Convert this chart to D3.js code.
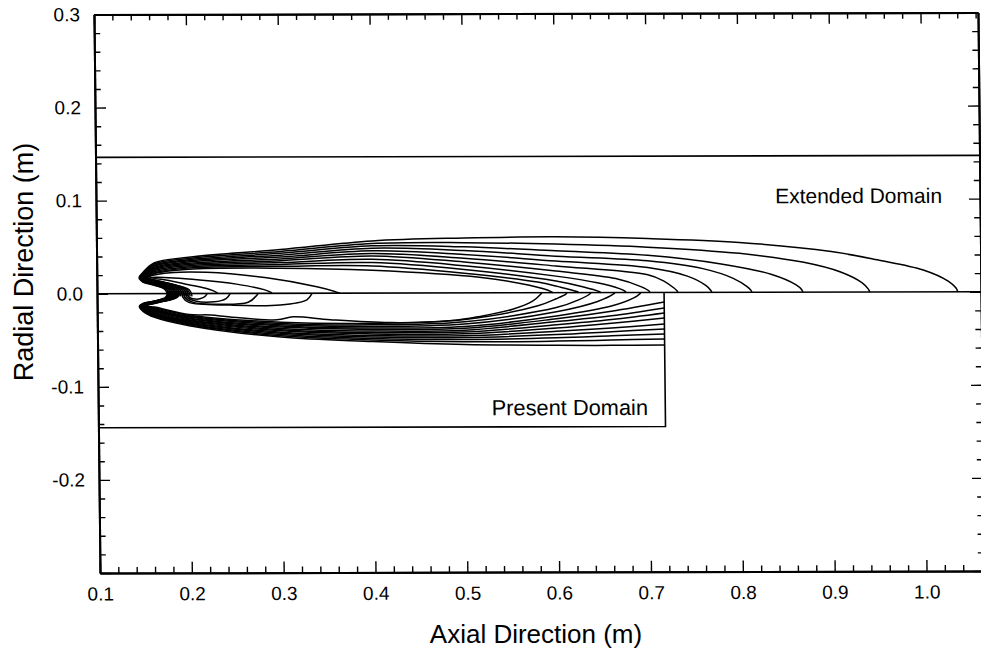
<!DOCTYPE html>
<html>
<head>
<meta charset="utf-8">
<script src="https://cdn.jsdelivr.net/npm/d3@7"></script>
<style>
  body { margin: 0; background: #fff; }
  svg { display: block; }
  text { font-family: "Liberation Sans", Arial, Helvetica, sans-serif; fill: #000; }
</style>
</head>
<body>
<svg id="chart" width="981" height="650"></svg>
<script>
// ---- axes ----
const xDomain = [0.1, 1.0626];
const yDomain = [-0.3, 0.3];
const xMajorTicks = [0.1, 0.2, 0.3, 0.4, 0.5, 0.6, 0.7, 0.8, 0.9, 1.0];
const xMinorTicks = [0.12, 0.14, 0.16, 0.18, 0.22, 0.24, 0.26, 0.28, 0.32, 0.34, 0.36, 0.38,
  0.42, 0.44, 0.46, 0.48, 0.52, 0.54, 0.56, 0.58, 0.62, 0.64, 0.66, 0.68, 0.72, 0.74, 0.76, 0.78,
  0.82, 0.84, 0.86, 0.88, 0.92, 0.94, 0.96, 0.98, 1.02, 1.04, 1.06];
const yMajorTicks = [-0.3, -0.2, -0.1, 0.0, 0.1, 0.2, 0.3];
const yLabelTicks = [0.3, 0.2, 0.1, 0.0, -0.1, -0.2];
const yMinorTicks = [-0.28, -0.26, -0.24, -0.22, -0.18, -0.16, -0.14, -0.12, -0.08, -0.06, -0.04, -0.02,
  0.02, 0.04, 0.06, 0.08, 0.12, 0.14, 0.16, 0.18, 0.22, 0.24, 0.26, 0.28];

// ---- domain boundaries ----
const extendedBoundaryR = 0.1465;
const presentBoundaryR = -0.144;
const presentBoundaryX = 0.7175;

// ---- isotherm contours, [axial x (m), radial r (m)] ----
// upper half (extended domain): outer band, outermost first
const upperBand = [
  [[0.1775,-0.003],[0.1745,0.004],[0.1625,0.0090],[0.150,0.0125],[0.1460,0.0170],[0.150,0.0225],[0.1625,0.0330],[0.200,0.0390],[0.300,0.0470],[0.400,0.0561],[0.500,0.0590],[0.600,0.0600],[0.700,0.0580],[0.800,0.0535],[0.900,0.0435],[0.950,0.0345],[1.000,0.0235],[1.027,0.0115],[1.0355,0.0040],[1.0373,0]],
  [[0.1795,-0.003],[0.1765,0.004],[0.1635,0.0093],[0.1507,0.0128],[0.1467,0.0170],[0.1507,0.0220],[0.1625,0.0318],[0.200,0.0377],[0.300,0.0450],[0.400,0.0532],[0.500,0.0540],[0.600,0.0522],[0.700,0.0487],[0.800,0.0418],[0.870,0.0320],[0.910,0.0215],[0.933,0.0100],[0.940,0.0030],[0.9415,0]],
  [[0.1815,-0.003],[0.1785,0.004],[0.1645,0.0096],[0.1514,0.0131],[0.1474,0.0170],[0.1514,0.0215],[0.1625,0.0306],[0.200,0.0364],[0.300,0.0430],[0.400,0.0508],[0.500,0.0495],[0.600,0.0450],[0.700,0.0400],[0.780,0.0305],[0.835,0.0190],[0.861,0.0080],[0.8675,0.0025],[0.8686,0]],
  [[0.1835,-0.003],[0.1805,0.004],[0.1655,0.0099],[0.1521,0.0134],[0.1481,0.0170],[0.1521,0.0210],[0.1625,0.0294],[0.200,0.0351],[0.300,0.0410],[0.400,0.0482],[0.500,0.0455],[0.600,0.0392],[0.700,0.0340],[0.760,0.0255],[0.793,0.0150],[0.808,0.0060],[0.8122,0.0020],[0.8131,0]],
  [[0.1855,-0.003],[0.1825,0.004],[0.1665,0.0102],[0.1528,0.0137],[0.1488,0.0170],[0.1528,0.0205],[0.1625,0.0282],[0.200,0.0338],[0.300,0.0390],[0.400,0.0454],[0.500,0.0413],[0.600,0.0340],[0.700,0.0268],[0.743,0.0175],[0.763,0.0075],[0.7685,0.0020],[0.7695,0]],
  [[0.1875,-0.003],[0.1845,0.004],[0.1675,0.0105],[0.1535,0.0140],[0.1495,0.0170],[0.1535,0.0200],[0.1625,0.0270],[0.200,0.0325],[0.300,0.0370],[0.400,0.0425],[0.500,0.0372],[0.600,0.0287],[0.700,0.0190],[0.717,0.0125],[0.728,0.0050],[0.7318,0.0015],[0.7325,0]],
  [[0.1895,-0.003],[0.1865,0.004],[0.1685,0.0108],[0.1542,0.0143],[0.1502,0.0170],[0.1542,0.0196],[0.1625,0.0258],[0.200,0.0312],[0.300,0.0350],[0.400,0.0400],[0.500,0.0332],[0.600,0.0232],[0.665,0.0150],[0.693,0.0060],[0.7012,0.0015],[0.7020,0]],
  [[0.1915,-0.003],[0.1885,0.004],[0.1695,0.0111],[0.1549,0.0146],[0.1509,0.0170],[0.1549,0.0192],[0.1625,0.0246],[0.200,0.0299],[0.300,0.0330],[0.400,0.0363],[0.500,0.0292],[0.600,0.0178],[0.645,0.0105],[0.669,0.0042],[0.6752,0.0012],[0.6759,0]],
  [[0.1935,-0.003],[0.1905,0.004],[0.1705,0.0114],[0.1556,0.0149],[0.1516,0.0170],[0.1556,0.0188],[0.1625,0.0234],[0.200,0.0286],[0.300,0.0310],[0.400,0.0328],[0.500,0.0252],[0.600,0.0125],[0.630,0.0060],[0.6465,0.0012],[0.6487,0]],
  [[0.1955,-0.003],[0.1925,0.004],[0.1715,0.0117],[0.1563,0.0152],[0.1523,0.0170],[0.1563,0.0184],[0.1625,0.0222],[0.200,0.0273],[0.300,0.0290],[0.400,0.0292],[0.500,0.0212],[0.580,0.0115],[0.6025,0.0065],[0.6225,0.0012],[0.6247,0]],
  [[0.1975,-0.003],[0.1945,0.004],[0.1725,0.0120],[0.1570,0.0155],[0.1530,0.0172],[0.1570,0.0182],[0.1625,0.0212],[0.200,0.0260],[0.300,0.0270],[0.400,0.0245],[0.5165,0.0167],[0.571,0.0080],[0.5945,0.0012],[0.5964,0]]
];
// upper half: inner contours near the nozzle
const upperInner = [
  [[0.1995,-0.003],[0.1965,0.004],[0.1735,0.0123],[0.158,0.0158],[0.155,0.0175],[0.160,0.0195],[0.180,0.0225],[0.2195,0.0228],[0.2850,0.0167],[0.3395,0.0070],[0.358,0.0022],[0.3645,0]],
  [[0.2015,-0.003],[0.1985,0.004],[0.176,0.0115],[0.1600,0.0150],[0.157,0.0165],[0.164,0.0175],[0.212,0.0145],[0.252,0.0100],[0.282,0.0040],[0.2895,0.0010],[0.2905,0]],
  [[0.2035,-0.003],[0.2005,0.004],[0.180,0.0105],[0.1625,0.0140],[0.160,0.0155],[0.170,0.0155],[0.200,0.0095],[0.222,0.0045],[0.2305,0.0010],[0.2317,0]]
];
// lower half (present domain): outer band, outermost first; the first nine end on the outlet plane
const lowerBand = [
  [[0.1775,0.003],[0.1745,-0.004],[0.1625,-0.0078],[0.150,-0.0105],[0.1460,-0.0135],[0.150,-0.0190],[0.1625,-0.0255],[0.200,-0.0345],[0.300,-0.0470],[0.400,-0.0520],[0.500,-0.0555],[0.600,-0.0565],[0.660,-0.0567],[0.7175,-0.0564]],
  [[0.1785,0.003],[0.1755,-0.004],[0.1630,-0.0079],[0.1505,-0.0106],[0.1465,-0.0134],[0.1505,-0.0186],[0.1625,-0.0247],[0.200,-0.0336],[0.300,-0.0457],[0.400,-0.0504],[0.500,-0.0525],[0.600,-0.0520],[0.660,-0.0510],[0.7175,-0.0500]],
  [[0.1795,0.003],[0.1765,-0.004],[0.1635,-0.0080],[0.1510,-0.0107],[0.1470,-0.0133],[0.1510,-0.0182],[0.1625,-0.0238],[0.200,-0.0327],[0.300,-0.0443],[0.400,-0.0488],[0.500,-0.0500],[0.600,-0.0485],[0.660,-0.0465],[0.7175,-0.0446]],
  [[0.1805,0.003],[0.1775,-0.004],[0.1640,-0.0081],[0.1515,-0.0108],[0.1475,-0.0132],[0.1515,-0.0178],[0.1625,-0.0230],[0.200,-0.0317],[0.300,-0.0430],[0.400,-0.0472],[0.500,-0.0480],[0.600,-0.0450],[0.660,-0.0420],[0.7175,-0.0392]],
  [[0.1815,0.003],[0.1785,-0.004],[0.1645,-0.0082],[0.1520,-0.0109],[0.1480,-0.0131],[0.1520,-0.0174],[0.1625,-0.0221],[0.200,-0.0308],[0.300,-0.0417],[0.400,-0.0455],[0.500,-0.0460],[0.600,-0.0415],[0.660,-0.0380],[0.7175,-0.0339]],
  [[0.1825,0.003],[0.1795,-0.004],[0.1650,-0.0083],[0.1525,-0.0110],[0.1485,-0.0130],[0.1525,-0.0170],[0.1625,-0.0213],[0.200,-0.0299],[0.300,-0.0403],[0.400,-0.0439],[0.500,-0.0440],[0.600,-0.0380],[0.660,-0.0330],[0.7175,-0.0274]],
  [[0.1835,0.003],[0.1805,-0.004],[0.1655,-0.0084],[0.1530,-0.0111],[0.1490,-0.0129],[0.1530,-0.0166],[0.1625,-0.0204],[0.200,-0.0290],[0.300,-0.0390],[0.400,-0.0423],[0.500,-0.0420],[0.600,-0.0345],[0.660,-0.0290],[0.7175,-0.0220]],
  [[0.1845,0.003],[0.1815,-0.004],[0.1660,-0.0085],[0.1535,-0.0112],[0.1495,-0.0128],[0.1535,-0.0162],[0.1625,-0.0196],[0.200,-0.0281],[0.300,-0.0377],[0.400,-0.0407],[0.500,-0.0400],[0.600,-0.0310],[0.660,-0.0250],[0.7175,-0.0167]],
  [[0.1855,0.003],[0.1825,-0.004],[0.1665,-0.0086],[0.1540,-0.0113],[0.1500,-0.0127],[0.1540,-0.0158],[0.1625,-0.0187],[0.200,-0.0271],[0.300,-0.0363],[0.400,-0.0390],[0.500,-0.0380],[0.600,-0.0280],[0.660,-0.0200],[0.7175,-0.0102]],
  [[0.1865,0.003],[0.1835,-0.004],[0.1670,-0.0087],[0.1545,-0.0114],[0.1505,-0.0126],[0.1545,-0.0154],[0.1625,-0.0179],[0.200,-0.0262],[0.300,-0.0350],[0.400,-0.0374],[0.500,-0.0360],[0.600,-0.0250],[0.660,-0.0145],[0.685,-0.0055],[0.691,-0.0015],[0.6922,0]],
  [[0.1875,0.003],[0.1845,-0.004],[0.1675,-0.0088],[0.1550,-0.0115],[0.1510,-0.0125],[0.1550,-0.0150],[0.1625,-0.0170],[0.200,-0.0253],[0.300,-0.0337],[0.400,-0.0358],[0.500,-0.0335],[0.600,-0.0205],[0.645,-0.0095],[0.6625,-0.0015],[0.6639,0]],
  [[0.1885,0.003],[0.1855,-0.004],[0.1680,-0.0089],[0.1555,-0.0116],[0.1515,-0.0124],[0.1555,-0.0146],[0.1625,-0.0162],[0.200,-0.0244],[0.300,-0.0323],[0.400,-0.0341],[0.500,-0.0310],[0.600,-0.0160],[0.625,-0.0075],[0.6365,-0.0015],[0.6378,0]],
  [[0.1895,0.003],[0.1865,-0.004],[0.1685,-0.0090],[0.1560,-0.0117],[0.1520,-0.0122],[0.1560,-0.0142],[0.1625,-0.0153],[0.200,-0.0234],[0.300,-0.0310],[0.400,-0.0325],[0.500,-0.0285],[0.580,-0.0140],[0.600,-0.0065],[0.6105,-0.0015],[0.6116,0]],
  [[0.1905,0.003],[0.1875,-0.004],[0.1690,-0.0091],[0.1565,-0.0118],[0.1525,-0.0120],[0.1565,-0.0138],[0.1625,-0.0145],[0.200,-0.0225],[0.2232,-0.0231],[0.2449,-0.0253],[0.2960,-0.0285],[0.3134,-0.0253],[0.3536,-0.0285],[0.4188,-0.0317],[0.4840,-0.0300],[0.5166,-0.0253],[0.5525,-0.0177],[0.5742,-0.0091],[0.5832,-0.0015],[0.5844,0]]
];
// lower half: inner contours near the nozzle
const lowerInner = [
  [[0.1925,0.003],[0.1935,-0.004],[0.200,-0.0095],[0.2450,-0.0125],[0.2995,-0.0125],[0.3285,-0.0070],[0.3335,-0.0012],[0.3340,0]],
  [[0.1945,0.003],[0.1955,-0.004],[0.205,-0.0095],[0.2275,-0.0115],[0.2645,-0.0095],[0.2745,-0.0015],[0.2753,0]],
  [[0.1965,0.003],[0.1975,-0.0035],[0.207,-0.0080],[0.2275,-0.0090],[0.2405,-0.0055],[0.2445,-0.0010],[0.2448,0]],
  [[0.1985,0.003],[0.1995,-0.0030],[0.207,-0.0060],[0.2155,-0.0045],[0.2195,-0.0010],[0.2197,0]]
];

const axisTitleX = "Axial Direction (m)";
const axisTitleY = "Radial Direction (m)";
const domainLabels = [
  { text: "Extended Domain", x: 0.8395, r: 0.0955, size: 21 },
  { text: "Present Domain", x: 0.5285, r: -0.1315, size: 21.8 }
];

// ---- layout ----
const svg = d3.select("#chart");
const plot = { left: 100, right: 984, top: 14.5, bottom: 573 };
const x = d3.scaleLinear().domain(xDomain).range([plot.left, plot.right]);
const y = d3.scaleLinear().domain(yDomain).range([plot.bottom, plot.top]);

// the frame sits with a slight skew on the page
const skewK = 0.0108, tiltM = 0.0023;
const g = svg.append("g")
  .attr("transform", `matrix(1,${-tiltM},${skewK},1,${-skewK * plot.bottom},${tiltM * plot.left})`);

const fmt = d => d.toFixed(1);
const majorLen = 11, minorLen = 6;

function styleAxis(sel) {
  sel.select(".domain").attr("stroke", "#000").attr("stroke-width", 2);
  sel.selectAll(".tick line").attr("stroke", "#000").attr("stroke-width", 1.4);
  sel.selectAll(".tick text")
    .style("font-family", '"Liberation Sans", Arial, sans-serif')
    .style("font-size", "19px").attr("fill", "#000");
}

// bottom
g.append("g").attr("transform", `translate(0,${plot.bottom})`)
  .call(d3.axisBottom(x).tickValues(xMinorTicks).tickSize(-minorLen).tickSizeOuter(0).tickFormat(""))
  .call(styleAxis);
g.append("g").attr("transform", `translate(0,${plot.bottom})`)
  .call(d3.axisBottom(x).tickValues(xMajorTicks).tickSize(-majorLen).tickSizeOuter(0).tickPadding(14).tickFormat(fmt))
  .call(styleAxis);
// top
g.append("g").attr("transform", `translate(0,${plot.top})`)
  .call(d3.axisTop(x).tickValues(xMinorTicks).tickSize(-minorLen).tickSizeOuter(0).tickFormat(""))
  .call(styleAxis);
g.append("g").attr("transform", `translate(0,${plot.top})`)
  .call(d3.axisTop(x).tickValues(xMajorTicks).tickSize(-majorLen).tickSizeOuter(0).tickFormat(""))
  .call(styleAxis);
// left
g.append("g").attr("transform", `translate(${plot.left},0)`)
  .call(d3.axisLeft(y).tickValues(yMinorTicks).tickSize(-minorLen).tickSizeOuter(0).tickFormat(""))
  .call(styleAxis);
g.append("g").attr("transform", `translate(${plot.left},0)`)
  .call(d3.axisLeft(y).tickValues(yMajorTicks).tickSize(-majorLen).tickSizeOuter(0).tickPadding(14)
    .tickFormat(d => yLabelTicks.includes(d) ? fmt(d) : ""))
  .call(styleAxis);
// right
g.append("g").attr("transform", `translate(${plot.right},0)`)
  .call(d3.axisRight(y).tickValues(yMinorTicks).tickSize(-minorLen).tickSizeOuter(0).tickFormat(""))
  .call(styleAxis);
g.append("g").attr("transform", `translate(${plot.right},0)`)
  .call(d3.axisRight(y).tickValues(yMajorTicks).tickSize(-majorLen).tickSizeOuter(0).tickFormat(""))
  .call(styleAxis);

// domain boundaries
const seg = d3.line().x(d => x(d[0])).y(d => y(d[1]));
const boundaries = [
  [[xDomain[0], extendedBoundaryR], [xDomain[1], extendedBoundaryR]],
  [[xDomain[0], 0], [xDomain[1], 0]],
  [[presentBoundaryX, 0], [presentBoundaryX, presentBoundaryR], [xDomain[0], presentBoundaryR]]
];
g.append("g").selectAll("path").data(boundaries).join("path")
  .attr("d", seg).attr("fill", "none").attr("stroke", "#000").attr("stroke-width", 1.6);

// isotherms
const curve = d3.line().x(d => x(d[0])).y(d => y(d[1])).curve(d3.curveCatmullRom.alpha(0.5));
const allContours = [...upperBand, ...upperInner, ...lowerBand, ...lowerInner];
g.append("g").selectAll("path").data(allContours).join("path")
  .attr("d", curve).attr("fill", "none").attr("stroke", "#000")
  .attr("stroke-width", 1.5).attr("stroke-linejoin", "round");

// domain labels
g.append("g").selectAll("text").data(domainLabels).join("text")
  .attr("x", d => x(d.x)).attr("y", d => y(d.r))
  .style("font-size", d => d.size + "px")
  .text(d => d.text);

// axis titles
svg.append("text").attr("x", 536).attr("y", 643).attr("text-anchor", "middle")
  .style("font-size", "26px").text(axisTitleX);
svg.append("text").attr("transform", "translate(33,262) rotate(-90)").attr("text-anchor", "middle")
  .style("font-size", "27px").text(axisTitleY);
</script>
</body>
</html>
